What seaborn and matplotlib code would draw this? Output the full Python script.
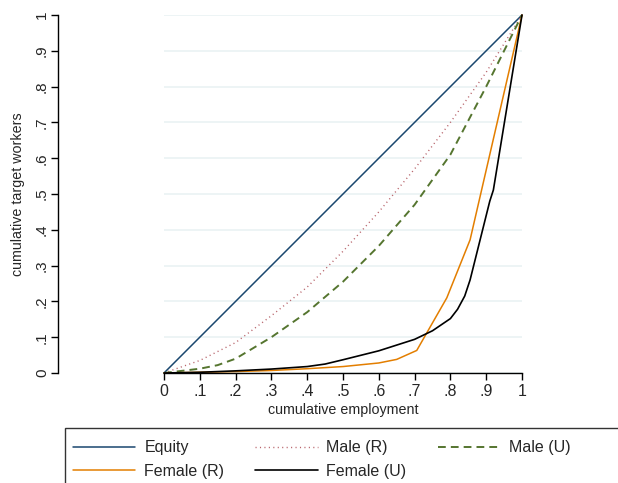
import numpy as np
import pandas as pd
import matplotlib
matplotlib.use("Agg")
import matplotlib.pyplot as plt
import seaborn as sns
from matplotlib.patches import Rectangle

# ---- data ----
equity_x = [0.0, 1.0]
equity_y = [0.0, 1.0]

male_r_x = [0.0, 0.1, 0.2, 0.3, 0.4, 0.5, 0.6, 0.7, 0.8, 0.9, 1.0]
male_r_y = [0.0, 0.035, 0.085, 0.16, 0.24, 0.34, 0.45, 0.57, 0.70, 0.84, 1.0]

male_u_x = [0.0, 0.1, 0.15, 0.2, 0.3, 0.4, 0.5, 0.6, 0.7, 0.8, 0.9, 1.0]
male_u_y = [0.0, 0.012, 0.022, 0.04, 0.10, 0.17, 0.255, 0.355, 0.47, 0.61, 0.80, 1.0]

female_r_x = [0.0, 0.1, 0.2, 0.3, 0.4, 0.5, 0.6, 0.65, 0.706, 0.79, 0.855, 1.0]
female_r_y = [0.0, 0.002, 0.004, 0.007, 0.012, 0.018, 0.028, 0.038, 0.063, 0.21, 0.372, 1.0]

female_u_x = [0.0, 0.1, 0.2, 0.3, 0.4, 0.45, 0.5, 0.6, 0.7, 0.75, 0.8, 0.82, 0.84, 0.855, 0.883, 0.91, 0.92, 1.0]
female_u_y = [0.0, 0.002, 0.006, 0.011, 0.018, 0.025, 0.037, 0.062, 0.094, 0.118, 0.152, 0.178, 0.215, 0.26, 0.372, 0.48, 0.511, 1.0]

tick_vals = [0, 0.1, 0.2, 0.3, 0.4, 0.5, 0.6, 0.7, 0.8, 0.9, 1]
tick_labels = ["0", ".1", ".2", ".3", ".4", ".5", ".6", ".7", ".8", ".9", "1"]

# ---- style ----
sns.set_theme(style="white")
plt.rcParams["font.family"] = ["Liberation Sans", "DejaVu Sans"]

fig = plt.figure(figsize=(6.18, 4.83), dpi=100)
ax = fig.add_axes([164/618, 1-373/483, 358/618, 358/483])

series = [
    ("Equity", equity_x, equity_y, dict(color="#1a476f", linestyle="-", linewidth=1.1)),
    ("Male (R)", male_r_x, male_r_y, dict(color="#b8646b", linestyle=(0, (0.8, 2.4)), linewidth=1.0)),
    ("Male (U)", male_u_x, male_u_y, dict(color="#55752f", linestyle=(0, (4, 2.6)), linewidth=1.4)),
    ("Female (R)", female_r_x, female_r_y, dict(color="#e37e00", linestyle="-", linewidth=1.1)),
    ("Female (U)", female_u_x, female_u_y, dict(color="#000000", linestyle="-", linewidth=1.2)),
]
handles = {}
for name, xs, ys, kw in series:
    df = pd.DataFrame({"x": xs, "y": ys})
    sns.lineplot(data=df, x="x", y="y", ax=ax, estimator=None, sort=False, label=name, **kw)
for line in ax.get_lines():
    line.set_clip_on(False)
for line, (name, *_rest) in zip(ax.get_lines(), series):
    handles[name] = line
if ax.get_legend() is not None:
    ax.get_legend().remove()

ax.set_xlim(0, 1)
ax.set_ylim(0, 1)
ax.set_xticks(tick_vals)
ax.set_xticklabels(tick_labels, fontsize=11.5)
ax.set_yticks(tick_vals)
ax.set_yticklabels(tick_labels, fontsize=13)
ax.yaxis.grid(True, color="#eaf2f3", linewidth=1.2)
ax.xaxis.grid(False)
ax.set_axisbelow(True)

for s in ["top", "right"]:
    ax.spines[s].set_visible(False)
ax.spines["left"].set_position(("outward", 76.3))
for s in ["left", "bottom"]:
    ax.spines[s].set_color("black")
    ax.spines[s].set_linewidth(1.0)
ax.tick_params(axis="both", which="major", direction="out", length=5, width=1.0,
               color="black", bottom=True, left=True, pad=3)
ax.tick_params(axis="y", labelrotation=90, pad=1.5)
for lbl in ax.get_yticklabels():
    lbl.set_va("center")

ax.set_xlabel("cumulative employment", fontsize=10.3, labelpad=3)
ax.set_ylabel("cumulative target workers", fontsize=10.3, labelpad=7)

# legend
order = ["Equity", "Female (R)", "Male (R)", "Female (U)", "Male (U)"]
leg = fig.legend([handles[n] for n in order], order, ncol=3, frameon=False,
                 loc="upper left", bbox_to_anchor=(62/618, 1-429/483),
                 fontsize=11.5, handlelength=3.9, handletextpad=0.55,
                 columnspacing=1.95, labelspacing=0.55, borderpad=0.2)
fig.patches.append(Rectangle((65/618, -0.1), 1.0, 0.1 + (1-428/483),
                             transform=fig.transFigure, fill=False,
                             edgecolor="#333333", linewidth=1.0))

fig.savefig("out.png", dpi=100)
